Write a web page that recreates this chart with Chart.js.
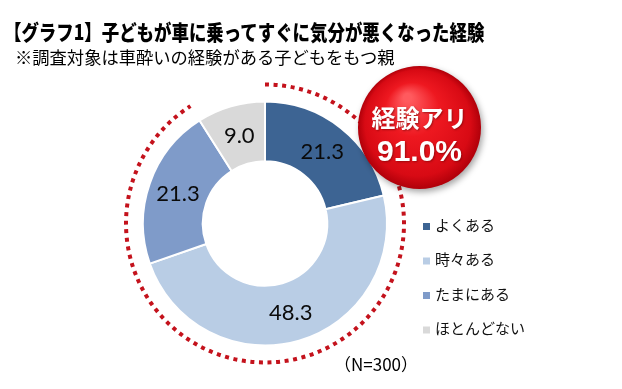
<!DOCTYPE html>
<html lang="ja">
<head>
<meta charset="utf-8">
<script src="https://cdn.jsdelivr.net/npm/chart.js@4.4.1/dist/chart.umd.min.js"></script>
<style>
  html, body { margin: 0; padding: 0; background: #fff; }
  #wrap { position: relative; width: 622px; height: 389px; overflow: hidden; }
  #chart { position: absolute; left: 0; top: 0; }
  .txt { position: absolute; white-space: nowrap; color: #000; font-family: "Noto Sans CJK JP", sans-serif; }
  #title { left: 4px; top: 17px; font-size: 21px; font-weight: 900; line-height: 28px; transform: scaleX(0.83); transform-origin: left top; }
  #subtitle { left: 15px; top: 46px; font-size: 17.3px; line-height: 22px; }
  #note { left: 334px; top: 353px; font-size: 17px; line-height: 22px; }
</style>
</head>
<body>
<div id="wrap">
  <canvas id="chart" width="622" height="389"></canvas>
  <div class="txt" id="title">【グラフ1】子どもが車に乗ってすぐに気分が悪くなった経験</div>
  <div class="txt" id="subtitle">※調査対象は車酔いの経験がある子どもをもつ親</div>
  <div class="txt" id="note">（N=300）</div>
</div>
<script>
// values (%)
const categories = ["よくある", "時々ある", "たまにある", "ほとんどない"];
const values = [21.3, 48.3, 21.3, 9.0];
const colors = ["#3D6493", "#B9CDE5", "#7F9BC9", "#D9D9D9"];
const badgeLines = ["経験アリ", "91.0%"];
const experiencedCount = 3; // first three answers = "経験アリ"

// numbers inside each slice
const sliceLabels = {
  id: "sliceLabels",
  afterDatasetsDraw(chart) {
    const ctx = chart.ctx;
    const meta = chart.getDatasetMeta(0);
    ctx.save();
    ctx.font = "22px Lato, sans-serif";
    ctx.fillStyle = "#0a0a0a";
    ctx.textAlign = "center";
    ctx.textBaseline = "middle";
    meta.data.forEach((arc, i) => {
      const p = arc.tooltipPosition();
      ctx.fillText(values[i].toFixed(1), p.x, p.y + 1);
    });
    ctx.restore();
  },
};

// red dotted ring + badge + legend
const extras = {
  id: "extras",
  afterDraw(chart) {
    const ctx = chart.ctx;
    const meta = chart.getDatasetMeta(0);
    const first = meta.data[0];
    const cx = first.x, cy = first.y;
    const outer = first.outerRadius;
    const last = meta.data[experiencedCount - 1];

    // dotted arc over the "経験アリ" share
    ctx.save();
    ctx.strokeStyle = "#C4121C";
    ctx.lineWidth = 4;
    ctx.setLineDash([4, 4.6]);
    ctx.beginPath();
    ctx.arc(cx, cy, outer + 17, first.startAngle, last.endAngle);
    ctx.stroke();
    ctx.restore();

    // badge
    const bx = 419.5, by = 127.5, br = 61.5;
    ctx.save();
    ctx.shadowColor = "rgba(0,0,0,0.35)";
    ctx.shadowBlur = 6;
    ctx.shadowOffsetX = 2;
    ctx.shadowOffsetY = 3;
    const g = ctx.createRadialGradient(bx - 12, by - 30, 4, bx, by, br);
    g.addColorStop(0, "#FF5A5E");
    g.addColorStop(0.4, "#EE1820");
    g.addColorStop(0.85, "#D80A14");
    g.addColorStop(1, "#B0000A");
    ctx.fillStyle = g;
    ctx.beginPath();
    ctx.arc(bx, by, br, 0, Math.PI * 2);
    ctx.fill();
    ctx.restore();

    ctx.save();
    ctx.fillStyle = "#fff";
    ctx.textAlign = "center";
    ctx.textBaseline = "middle";
    ctx.shadowColor = "rgba(90,0,0,0.5)";
    ctx.shadowBlur = 2;
    ctx.shadowOffsetX = 1;
    ctx.shadowOffsetY = 1;
    ctx.font = "bold 24px 'Noto Sans CJK JP', sans-serif";
    ctx.fillText(badgeLines[0], bx, by - 10);
    ctx.font = "bold 30px 'Liberation Sans', Arial, sans-serif";
    ctx.fillText(badgeLines[1], bx, by + 25);
    ctx.restore();

    // legend
    ctx.save();
    ctx.font = "15px 'Noto Sans CJK JP', sans-serif";
    ctx.textBaseline = "middle";
    ctx.textAlign = "left";
    categories.forEach((c, i) => {
      const y = 225 + i * 34.5;
      ctx.fillStyle = colors[i];
      ctx.fillRect(423, y - 2, 7, 7);
      ctx.fillStyle = "#111";
      ctx.fillText(c, 435, y);
    });
    ctx.restore();
  },
};

new Chart(document.getElementById("chart"), {
  type: "doughnut",
  data: {
    labels: categories,
    datasets: [
      {
        data: values,
        backgroundColor: colors,
        borderColor: "#fff",
        borderWidth: 2,
      },
    ],
  },
  options: {
    responsive: false,
    animation: false,
    devicePixelRatio: 1,
    cutout: "51%",
    layout: { padding: { left: 142, top: 100, right: 234, bottom: 42 } },
    plugins: {
      legend: { display: false },
      tooltip: { enabled: false },
    },
  },
  plugins: [sliceLabels, extras],
});
</script>
</body>
</html>
